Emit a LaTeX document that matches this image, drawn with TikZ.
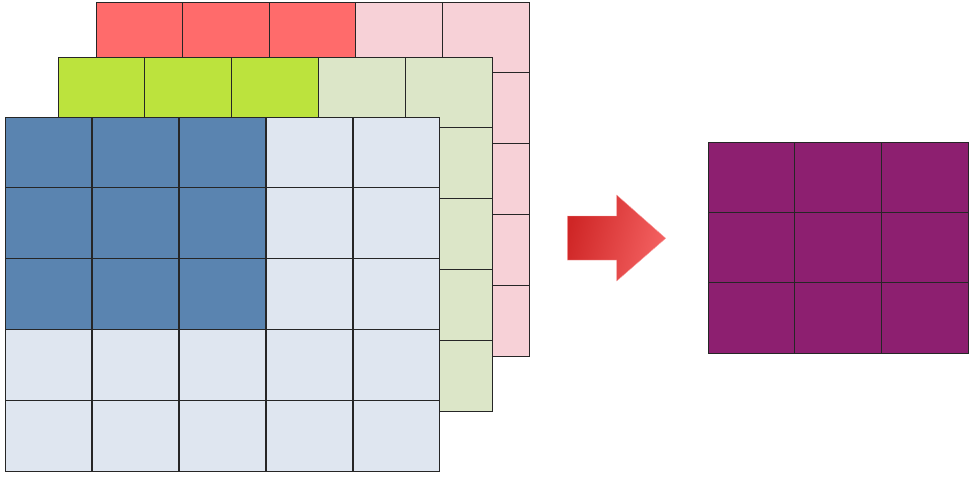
\documentclass[tikz,border=0pt]{standalone}
\usetikzlibrary{positioning}
\definecolor{redDark}{HTML}{FF6B6B}
\definecolor{redLight}{HTML}{F7D1D7}
\definecolor{greenDark}{HTML}{BCE33D}
\definecolor{greenLight}{HTML}{DCE6C8}
\definecolor{blueDark}{HTML}{5A84B0}
\definecolor{blueLight}{HTML}{DFE6F0}
\definecolor{outPurple}{HTML}{8D1F70}
\definecolor{arrowLeft}{HTML}{CF2626}
\definecolor{arrowRight}{HTML}{F46262}
\begin{document}
\begin{tikzpicture}[x=1pt,y=-1pt,
    cell/.style={draw=black!85, line width=0.9pt, minimum width=86.8pt, minimum height=70.8pt,
                 inner sep=0pt, outer sep=0pt, anchor=north west}]
    \useasboundingbox (0,0) rectangle (974,481);

    % red input channel (back)
    \foreach \r in {0,...,4}
        \foreach \c in {0,...,4} {
            \ifnum\r<3 \ifnum\c<3 \def\fc{redDark}\else\def\fc{redLight}\fi \else\def\fc{redLight}\fi
            \node[cell, fill=\fc] (red-\r-\c) at (96+86.6*\c, 2+70.8*\r) {};
        }

    % green input channel (middle)
    \foreach \r in {0,...,4}
        \foreach \c in {0,...,4} {
            \ifnum\r<3 \ifnum\c<3 \def\fc{greenDark}\else\def\fc{greenLight}\fi \else\def\fc{greenLight}\fi
            \node[cell, fill=\fc] (green-\r-\c) at (58+86.8*\c, 57+70.8*\r) {};
        }

    % blue input channel (front)
    \foreach \r in {0,...,4}
        \foreach \c in {0,...,4} {
            \ifnum\r<3 \ifnum\c<3 \def\fc{blueDark}\else\def\fc{blueLight}\fi \else\def\fc{blueLight}\fi
            \node[cell, fill=\fc] (blue-\r-\c) at (5+87*\c, 117+70.8*\r) {};
        }

    % arrow
    \shade[left color=arrowLeft, right color=arrowRight, shading angle=75, draw=arrowRight!60, line width=0.4pt]
        (567.3,216) -- (616.7,216) -- (616.7,195) -- (665.7,238.3)
        -- (616.7,281) -- (616.7,260) -- (567.3,260) -- cycle;

    % output feature map
    \foreach \r in {0,1,2}
        \foreach \c in {0,1,2}
            \node[cell, fill=outPurple, minimum width=86.7pt, minimum height=70.3pt] (out-\r-\c)
                at (708+86.7*\c, 142.3+70.3*\r) {};

\end{tikzpicture}
\end{document}
